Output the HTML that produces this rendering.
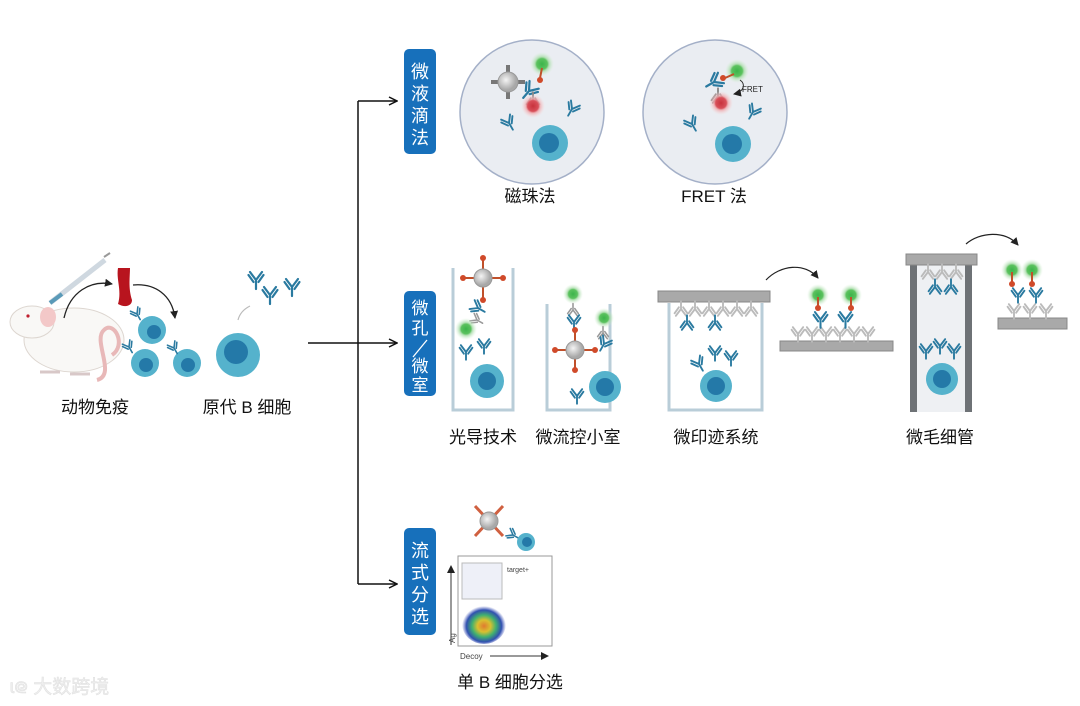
<!DOCTYPE html>
<html><head><meta charset="utf-8"><style>
html,body{margin:0;padding:0;background:#fff;}
svg{display:block;}
text{font-family:"Liberation Sans","Noto Sans CJK SC",sans-serif;}
</style></head><body>
<svg width="1080" height="706" viewBox="0 0 1080 706" xmlns="http://www.w3.org/2000/svg">
<defs>
<symbol id="ab" viewBox="3 3 14 14" overflow="visible"><path d="M10 19V10M10 10L4 2M10 10L16 2M7.5 12L2.5 5M12.5 12L17.5 5" stroke="currentColor" stroke-width="2.2" fill="none" stroke-linecap="round"/></symbol>
<symbol id="abd" viewBox="3 3 14 14" overflow="visible"><path d="M10 1V10M10 10L4 18M10 10L16 18M7.5 8L2.5 15M12.5 8L17.5 15" stroke="currentColor" stroke-width="2.2" fill="none" stroke-linecap="round"/></symbol>
<radialGradient id="gg"><stop offset="0" stop-color="#3cb44a"/><stop offset="0.45" stop-color="#5cc25f"/><stop offset="0.6" stop-color="#a8dca8" stop-opacity="0.8"/><stop offset="1" stop-color="#d8f0d8" stop-opacity="0"/></radialGradient>
<radialGradient id="rg"><stop offset="0" stop-color="#c8323c"/><stop offset="0.45" stop-color="#d8505a"/><stop offset="0.6" stop-color="#f0a8ac" stop-opacity="0.8"/><stop offset="1" stop-color="#f8d8d8" stop-opacity="0"/></radialGradient>
<radialGradient id="bead" cx="0.4" cy="0.4"><stop offset="0" stop-color="#f4f4f4"/><stop offset="1" stop-color="#a8a8a8"/></radialGradient>
<radialGradient id="flow" cx="0.5" cy="0.55"><stop offset="0" stop-color="#e07a30"/><stop offset="0.3" stop-color="#d8c030"/><stop offset="0.55" stop-color="#40b070"/><stop offset="0.8" stop-color="#3050b0"/><stop offset="1" stop-color="#5060c0" stop-opacity="0"/></radialGradient>
<marker id="ar" markerWidth="10" markerHeight="10" refX="9" refY="5" orient="auto" markerUnits="userSpaceOnUse"><path d="M1 1L9 5L1 9" fill="none" stroke="#111" stroke-width="1.5"/></marker>
<marker id="ah" markerWidth="8" markerHeight="8" refX="7" refY="4" orient="auto" markerUnits="userSpaceOnUse"><path d="M0 0L8 4L0 8Z" fill="#222"/></marker>
</defs>

<g stroke="#111" stroke-width="1.5" fill="none">
<path d="M308 343H397" marker-end="url(#ar)"/>
<path d="M358 101V584"/>
<path d="M358 101H397" marker-end="url(#ar)"/>
<path d="M358 584H397" marker-end="url(#ar)"/>
</g>

<g fill="#1770bb">
<rect x="404" y="49" width="32" height="105" rx="5"/>
<rect x="404" y="291" width="32" height="105" rx="5"/>
<rect x="404" y="528" width="32" height="107" rx="5"/>
</g>
<g fill="#fff" font-size="18" text-anchor="middle">
<text x="420" y="78">微</text><text x="420" y="100">液</text><text x="420" y="122">滴</text><text x="420" y="144">法</text>
<text x="420" y="557">流</text><text x="420" y="579">式</text><text x="420" y="601">分</text><text x="420" y="623">选</text>
</g>
<g fill="#fff" font-size="17" text-anchor="middle">
<text x="420" y="314">微</text><text x="420" y="334">孔</text>
<path d="M427 340L413 357" stroke="#fff" stroke-width="1.3"/>
<text x="420" y="372">微</text><text x="420" y="391">室</text>
</g>

<!-- Left: mouse -->
<g>
<ellipse cx="74" cy="340" rx="50" ry="32" fill="#f9f8f6" stroke="#ddd6d0"/>
<ellipse cx="32" cy="322" rx="22" ry="16" fill="#f9f8f6" stroke="#ddd6d0"/>
<ellipse cx="48" cy="317" rx="8" ry="10" fill="#f3c8c8"/>
<circle cx="28" cy="316" r="1.6" fill="#c02030"/>
<path d="M112 355C127 345 114 320 104 330C92 340 117 375 97 380" fill="none" stroke="#e8b8b8" stroke-width="4"/>
<path d="M40 372h20M70 374h20" stroke="#d8c8c8" stroke-width="3"/>
<path d="M50 303L105 260" stroke="#cfd8e0" stroke-width="5"/>
<path d="M50 303L62 294" stroke="#5a9ab8" stroke-width="4"/>
<path d="M104 257L110 253" stroke="#999" stroke-width="2"/>
<path d="M64 318C70 292 90 280 112 284" fill="none" stroke="#222" stroke-width="1.3" marker-end="url(#ah)"/>
<path d="M118 268C116 280 122 290 118 304C125 308 132 306 132 300C128 288 130 276 130 268Z" fill="#b8141e"/>
<path d="M133 285C155 283 172 295 175 318" fill="none" stroke="#222" stroke-width="1.3" marker-end="url(#ah)"/>
<circle cx="152" cy="330" r="14" fill="#55b2cc"/><circle cx="154" cy="332" r="7" fill="#2479a8"/>
<circle cx="145" cy="363" r="14" fill="#55b2cc"/><circle cx="146" cy="365" r="7" fill="#2479a8"/>
<circle cx="187" cy="363" r="14" fill="#55b2cc"/><circle cx="188" cy="365" r="7" fill="#2479a8"/>
<use href="#ab" x="132" y="309" width="10" height="10" color="#2a7aa0" transform="rotate(-30 137 314)"/>
<use href="#ab" x="124" y="342" width="10" height="10" color="#2a7aa0" transform="rotate(-30 129 347)"/>
<use href="#ab" x="169" y="343" width="10" height="10" color="#2a7aa0" transform="rotate(-30 174 348)"/>
<circle cx="238" cy="355" r="22" fill="#55b2cc"/><circle cx="236" cy="352" r="12" fill="#2479a8"/>
<path d="M238 320C240 312 246 308 250 306" fill="none" stroke="#bbb" stroke-width="1.2"/>
<use href="#ab" x="249" y="273" width="14" height="14" color="#2a7aa0"/>
<use href="#ab" x="263" y="288" width="14" height="14" color="#2a7aa0"/>
<use href="#ab" x="285" y="280" width="14" height="14" color="#2a7aa0"/>
</g>
<g font-size="17" fill="#111" text-anchor="middle">
<text x="95" y="413">动物免疫</text>
<text x="247" y="413">原代 B 细胞</text>
</g>

<circle cx="532" cy="112" r="72" fill="#eaedf2" stroke="#a4b0c8" stroke-width="1.5"/>
<circle cx="715" cy="112" r="72" fill="#eaedf2" stroke="#a4b0c8" stroke-width="1.5"/>
<g>
<path d="M508 65V99M491 82H525" stroke="#777" stroke-width="4"/>
<circle cx="508" cy="82" r="10" fill="url(#bead)" stroke="#999"/>
<circle cx="542" cy="64" r="12" fill="url(#gg)"/>
<path d="M542 68L540 78" stroke="#c0502a" stroke-width="2"/><circle cx="540" cy="80" r="3" fill="#d04a2a"/>
<use href="#ab" x="522" y="84" width="14" height="14" color="#2a7aa0" transform="rotate(40 529 91)"/>
<use href="#abd" x="527" y="94" width="12" height="12" color="#888"/>
<circle cx="533" cy="106" r="12" fill="url(#rg)"/>
<use href="#ab" x="503" y="117" width="12" height="12" color="#2a7aa0" transform="rotate(-30 509 123)"/>
<use href="#ab" x="566" y="103" width="12" height="12" color="#2a7aa0" transform="rotate(30 572 109)"/>
<circle cx="550" cy="143" r="18" fill="#55b2cc"/><circle cx="549" cy="143" r="10" fill="#2479a8"/>
</g>
<g>
<circle cx="737" cy="71" r="12" fill="url(#gg)"/>
<path d="M734 74L725 78" stroke="#c0502a" stroke-width="2"/><circle cx="723" cy="78" r="3" fill="#d04a2a"/>
<use href="#ab" x="707" y="75" width="14" height="14" color="#2a7aa0" transform="rotate(60 714 82)"/>
<use href="#abd" x="712" y="90" width="12" height="12" color="#888"/>
<circle cx="721" cy="103" r="12" fill="url(#rg)"/>
<path d="M740 80C746 84 744 92 734 94" fill="none" stroke="#222" stroke-width="1" marker-end="url(#ah)"/>
<text x="742" y="92" font-size="8" fill="#222">FRET</text>
<use href="#ab" x="686" y="118" width="12" height="12" color="#2a7aa0" transform="rotate(-30 692 124)"/>
<use href="#ab" x="747" y="106" width="12" height="12" color="#2a7aa0" transform="rotate(30 753 112)"/>
<circle cx="733" cy="144" r="18" fill="#55b2cc"/><circle cx="732" cy="144" r="10" fill="#2479a8"/>
</g>
<g font-size="17" fill="#111" text-anchor="middle">
<text x="530" y="202">磁珠法</text>
<text x="714" y="202">FRET 法</text>
</g>

<g fill="none" stroke="#b9cdd8" stroke-width="3">
<path d="M453 268V410H513V268"/>
<path d="M547 304V410H610V304"/>
<path d="M669 303V410H762V303"/>
</g>
<g>
<path d="M483 258V300M463 278H503" stroke="#c0502a" stroke-width="2"/>
<circle cx="483" cy="258" r="3" fill="#d04a2a"/><circle cx="483" cy="300" r="3" fill="#d04a2a"/><circle cx="463" cy="278" r="3" fill="#d04a2a"/><circle cx="503" cy="278" r="3" fill="#d04a2a"/>
<circle cx="483" cy="278" r="9" fill="url(#bead)" stroke="#999"/>
<use href="#ab" x="472" y="302" width="12" height="12" color="#2a7aa0" transform="rotate(-60 478 308)"/>
<use href="#ab" x="472" y="315" width="10" height="10" color="#999" transform="rotate(-60 477 320)"/>
<circle cx="466" cy="329" r="11" fill="url(#gg)"/>
<use href="#ab" x="460" y="346" width="12" height="12" color="#2a7aa0"/>
<use href="#ab" x="478" y="340" width="12" height="12" color="#2a7aa0"/>
<circle cx="487" cy="381" r="17" fill="#55b2cc"/><circle cx="487" cy="381" r="9" fill="#2479a8"/>
</g>
<g>
<circle cx="573" cy="294" r="10" fill="url(#gg)"/>
<use href="#abd" x="568" y="305" width="10" height="10" color="#999"/>
<use href="#ab" x="568" y="316" width="12" height="12" color="#2a7aa0"/>
<path d="M555 350H595M575 330V370" stroke="#c0502a" stroke-width="2"/>
<circle cx="555" cy="350" r="3" fill="#d04a2a"/><circle cx="595" cy="350" r="3" fill="#d04a2a"/><circle cx="575" cy="330" r="3" fill="#d04a2a"/><circle cx="575" cy="370" r="3" fill="#d04a2a"/>
<circle cx="575" cy="350" r="9" fill="url(#bead)" stroke="#999"/>
<circle cx="604" cy="318" r="10" fill="url(#gg)"/>
<use href="#abd" x="598" y="328" width="10" height="10" color="#999"/>
<use href="#ab" x="598" y="338" width="12" height="12" color="#2a7aa0" transform="rotate(30 604 344)"/>
<use href="#ab" x="571" y="390" width="12" height="12" color="#2a7aa0"/>
<circle cx="605" cy="387" r="16" fill="#55b2cc"/><circle cx="605" cy="387" r="9" fill="#2479a8"/>
</g>
<g>
<rect x="658" y="291" width="112" height="11" fill="#a9a9a9" stroke="#888"/>
<use href="#abd" x="675" y="303" width="12" height="12" color="#bbb"/>
<use href="#abd" x="689" y="303" width="12" height="12" color="#bbb"/>
<use href="#abd" x="703" y="303" width="12" height="12" color="#bbb"/>
<use href="#abd" x="717" y="303" width="12" height="12" color="#bbb"/>
<use href="#abd" x="731" y="303" width="12" height="12" color="#bbb"/>
<use href="#abd" x="745" y="303" width="12" height="12" color="#bbb"/>
<use href="#abd" x="681" y="317" width="12" height="12" color="#2a7aa0"/>
<use href="#abd" x="709" y="317" width="12" height="12" color="#2a7aa0"/>
<use href="#ab" x="693" y="358" width="12" height="12" color="#2a7aa0" transform="rotate(-30 699 364)"/>
<use href="#ab" x="709" y="347" width="12" height="12" color="#2a7aa0"/>
<use href="#ab" x="725" y="352" width="12" height="12" color="#2a7aa0"/>
<circle cx="716" cy="386" r="16" fill="#55b2cc"/><circle cx="716" cy="386" r="9" fill="#2479a8"/>
<path d="M766 280C780 265 805 262 818 278" fill="none" stroke="#222" stroke-width="1.2" marker-end="url(#ah)"/>
<rect x="780" y="341" width="113" height="10" fill="#a9a9a9" stroke="#888"/>
<use href="#ab" x="792" y="328" width="12" height="12" color="#bbb"/>
<use href="#ab" x="806" y="328" width="12" height="12" color="#bbb"/>
<use href="#ab" x="820" y="328" width="12" height="12" color="#bbb"/>
<use href="#ab" x="834" y="328" width="12" height="12" color="#bbb"/>
<use href="#ab" x="848" y="328" width="12" height="12" color="#bbb"/>
<use href="#ab" x="862" y="328" width="12" height="12" color="#bbb"/>
<use href="#ab" x="814" y="313" width="13" height="13" color="#2a7aa0"/>
<use href="#ab" x="839" y="313" width="13" height="13" color="#2a7aa0"/>
<circle cx="818" cy="295" r="11" fill="url(#gg)"/><path d="M818 297V306" stroke="#c0502a" stroke-width="2"/><circle cx="818" cy="308" r="3" fill="#d04a2a"/>
<circle cx="851" cy="295" r="11" fill="url(#gg)"/><path d="M851 297V306" stroke="#c0502a" stroke-width="2"/><circle cx="851" cy="308" r="3" fill="#d04a2a"/>
</g>
<g>
<rect x="910" y="265" width="62" height="147" fill="#eef0f3"/>
<rect x="910" y="265" width="7" height="147" fill="#6e7276"/>
<rect x="965" y="265" width="7" height="147" fill="#6e7276"/>
<rect x="906" y="254" width="71" height="11" fill="#a9a9a9" stroke="#888"/>
<use href="#abd" x="922" y="266" width="12" height="12" color="#bbb"/>
<use href="#abd" x="936" y="266" width="12" height="12" color="#bbb"/>
<use href="#abd" x="950" y="266" width="12" height="12" color="#bbb"/>
<use href="#abd" x="929" y="281" width="12" height="12" color="#2a7aa0"/>
<use href="#abd" x="945" y="281" width="12" height="12" color="#2a7aa0"/>
<use href="#ab" x="920" y="345" width="12" height="12" color="#2a7aa0"/>
<use href="#ab" x="934" y="340" width="12" height="12" color="#2a7aa0"/>
<use href="#ab" x="948" y="345" width="12" height="12" color="#2a7aa0"/>
<circle cx="942" cy="379" r="16" fill="#55b2cc"/><circle cx="942" cy="379" r="9" fill="#2479a8"/>
<path d="M966 244C980 232 1005 230 1018 245" fill="none" stroke="#222" stroke-width="1.2" marker-end="url(#ah)"/>
<rect x="998" y="318" width="69" height="11" fill="#a9a9a9" stroke="#888"/>
<use href="#ab" x="1008" y="305" width="12" height="12" color="#bbb"/>
<use href="#ab" x="1024" y="305" width="12" height="12" color="#bbb"/>
<use href="#ab" x="1040" y="305" width="12" height="12" color="#bbb"/>
<use href="#ab" x="1012" y="289" width="12" height="12" color="#2a7aa0"/>
<use href="#ab" x="1030" y="289" width="12" height="12" color="#2a7aa0"/>
<circle cx="1012" cy="270" r="11" fill="url(#gg)"/><path d="M1012 272V282" stroke="#c0502a" stroke-width="2"/><circle cx="1012" cy="284" r="3" fill="#d04a2a"/>
<circle cx="1032" cy="270" r="11" fill="url(#gg)"/><path d="M1032 272V282" stroke="#c0502a" stroke-width="2"/><circle cx="1032" cy="284" r="3" fill="#d04a2a"/>
</g>
<g font-size="17" fill="#111" text-anchor="middle">
<text x="483" y="443">光导技术</text>
<text x="578" y="443">微流控小室</text>
<text x="716" y="443">微印迹系统</text>
<text x="940" y="443">微毛细管</text>
</g>

<g>
<path d="M475 506L503 536M475 536L503 506" stroke="#d06040" stroke-width="3"/>
<circle cx="489" cy="521" r="9" fill="url(#bead)" stroke="#999"/>
<use href="#ab" x="508" y="530" width="10" height="10" color="#2a7aa0" transform="rotate(-60 513 535)"/>
<circle cx="526" cy="542" r="9" fill="#55b2cc"/><circle cx="527" cy="542" r="5" fill="#2479a8"/>
<rect x="458" y="556" width="94" height="90" fill="#fff" stroke="#999"/>
<rect x="462" y="563" width="40" height="36" fill="#eef0f8" stroke="#bbb"/>
<ellipse cx="484" cy="624" rx="22" ry="20" fill="url(#flow)"/>
<text x="507" y="572" font-size="7" fill="#444">target+</text>
<path d="M451 645V566" stroke="#333" stroke-width="1" marker-end="url(#ah)"/>
<path d="M490 656H548" stroke="#333" stroke-width="1" marker-end="url(#ah)"/>
<text x="460" y="659" font-size="8" fill="#444">Decoy</text>
<text x="455" y="643" font-size="8" fill="#444" transform="rotate(-90 455 643)">Ag</text>
</g>
<text x="510" y="688" font-size="17" fill="#111" text-anchor="middle">单 B 细胞分选</text>

<text x="10" y="693" font-size="19" fill="#eeeeee" stroke="#e0e0e0" stroke-width="0.5">ɩ᪤ 大数跨境</text>
</svg>
</body></html>
